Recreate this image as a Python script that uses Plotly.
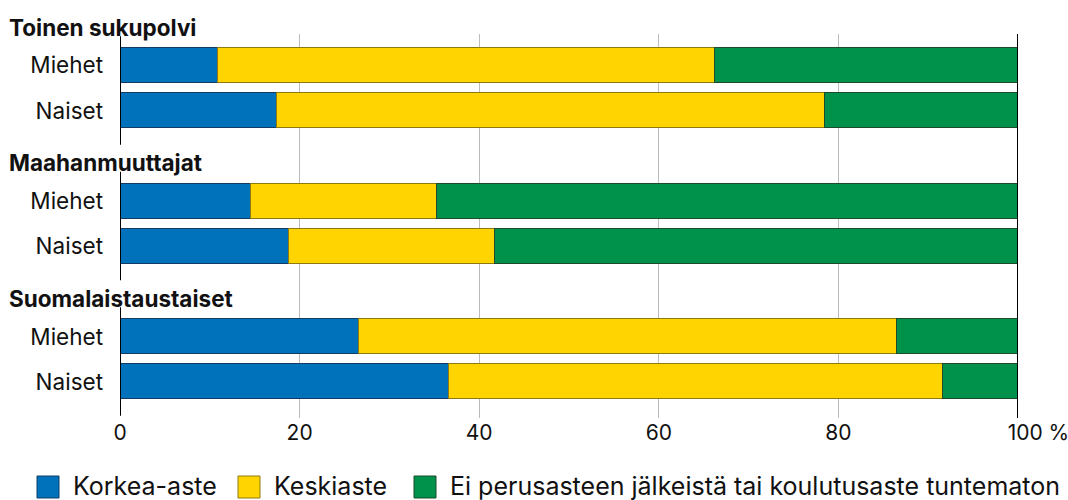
import plotly.graph_objects as go

# Education level by background group and sex (% of population)
groups = ["Toinen sukupolvi", "Maahanmuuttajat", "Suomalaistaustaiset"]
sexes = ["Miehet", "Naiset"]

series_names = ["Korkea-aste", "Keskiaste",
                "Ei perusasteen jälkeistä tai koulutusaste tuntematon"]
korkea = [10.9, 17.5, 14.6, 18.8, 26.6, 36.6]
keski = [55.4, 61.0, 20.7, 23.0, 59.9, 55.0]
ei_tuntematon = [33.7, 21.5, 64.7, 58.2, 13.5, 8.4]

x_ticks = [0, 20, 40, 60, 80, 100]
x_ticktext = ["0", "20", "40", "60", "80", "\u2007\u2007\u2007100 %"]

colors = ["#0071BB", "#FFD400", "#00924A"]
edge_colors = ["#123c63", "#8c7a10", "#1d4a2c"]

FONT = "Inter"

# each group takes three rows: heading, Miehet, Naiset
row_pos = []
for g in range(len(groups)):
    for s in range(len(sexes)):
        row_pos.append(3 * g + 1 + s)
row_labels = [sexes[s] for g in range(len(groups)) for s in range(len(sexes))]

Y_RANGE = [8.8, 0.3]

fig = go.Figure()
for name, vals, col, edge in zip(series_names, [korkea, keski, ei_tuntematon],
                                 colors, edge_colors):
    fig.add_trace(go.Bar(
        x=vals, y=row_pos, orientation="h", name=name,
        marker=dict(color=col, line=dict(color=edge, width=1)),
        width=0.78, showlegend=False,
    ))

# plot area in pixels
W, H = 1068, 500
L, R, T, B = 120, 50, 34, 82
pw, ph = W - L - R, H - T - B


def px_x(p):
    return (p - L) / pw


def px_y(p):
    return (H - B - p) / ph


def row_to_paper(v):
    lo, hi = Y_RANGE
    return (lo - v) / (lo - hi)


shapes = []
# left axis line, broken under each group heading
for g in range(len(groups)):
    shapes.append(dict(type="line", xref="x", yref="y", x0=0, x1=0,
                       y0=3 * g + 0.35, y1=3 * g + 2.75,
                       line=dict(color="black", width=2), layer="above"))
# right edge at 100 %
shapes.append(dict(type="line", xref="x", yref="paper", x0=100, x1=100,
                   y0=0, y1=1, line=dict(color="black", width=2), layer="above"))

annotations = []
for g, title in enumerate(groups):
    annotations.append(dict(
        text="<b>" + title + "</b>", xref="paper", yref="paper",
        x=px_x(7), y=row_to_paper(3 * g + 0.15), xanchor="left", yanchor="middle",
        showarrow=False, font=dict(family=FONT, size=22.5, color="#111111"),
    ))

# legend drawn as swatches + labels under the axis
sw_left = [37, 238, 414]
sw = 22
sw_top, sw_bot = 476, 498
for name, col, edge, x0 in zip(series_names, colors, edge_colors, sw_left):
    shapes.append(dict(type="rect", xref="paper", yref="paper",
                       x0=px_x(x0), x1=px_x(x0 + sw),
                       y0=px_y(sw_bot), y1=px_y(sw_top),
                       fillcolor=col, line=dict(color=edge, width=1)))
    annotations.append(dict(
        text=name, xref="paper", yref="paper",
        x=px_x(x0 + sw + 12), y=px_y(485.5),
        xanchor="left", yanchor="middle", showarrow=False,
        font=dict(family=FONT, size=25, color="#111111"),
    ))

fig.update_layout(
    barmode="stack",
    width=W, height=H,
    margin=dict(l=L, r=R, t=T, b=B, pad=0, autoexpand=False),
    plot_bgcolor="white", paper_bgcolor="white",
    font=dict(family=FONT, size=20, color="#111111"),
    shapes=shapes, annotations=annotations,
    bargap=0,
)
fig.update_xaxes(
    range=[0, 100], tickvals=x_ticks, ticktext=x_ticktext,
    showgrid=True, gridcolor="#bcbcbc", gridwidth=1,
    zeroline=False, showline=False, ticks="", automargin=False,
    ticklabeloverflow="allow",
    tickfont=dict(family=FONT, size=21, color="#111111"),
    fixedrange=True,
)
fig.update_yaxes(
    range=Y_RANGE, tickvals=row_pos, ticktext=row_labels,
    showgrid=False, zeroline=False, showline=False, ticks="",
    ticklabelstandoff=16, automargin=False,
    tickfont=dict(family=FONT, size=22.5, color="#111111"),
    fixedrange=True,
)

fig.write_html("out.html", include_plotlyjs=True, config={"displayModeBar": False})
